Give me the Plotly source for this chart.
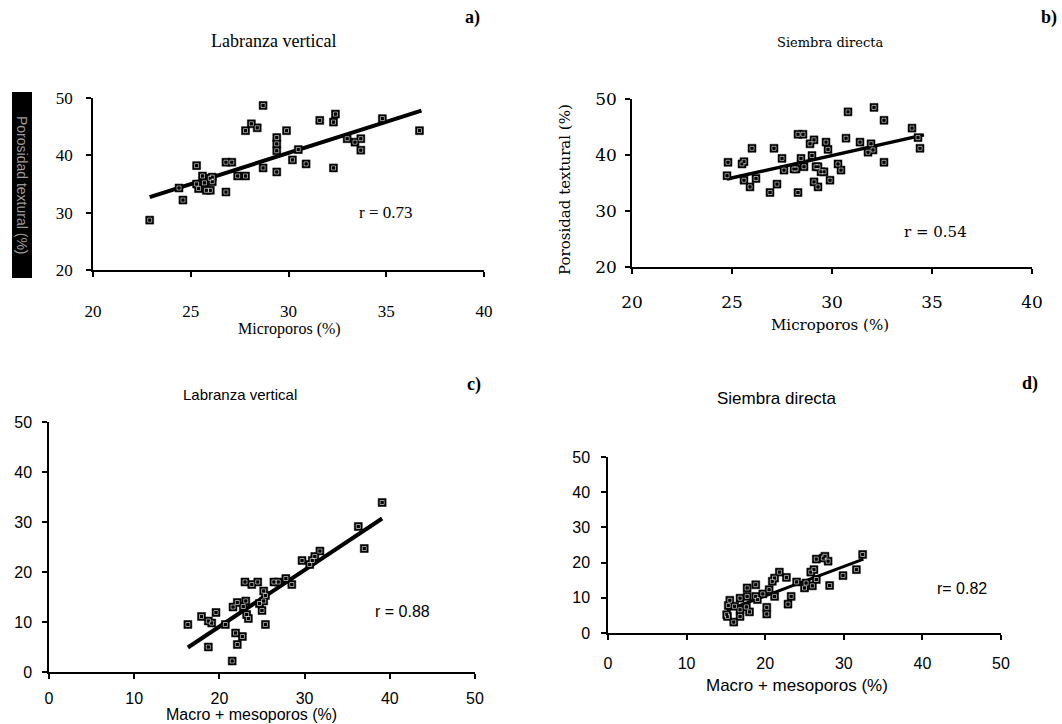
import plotly.graph_objects as go

W, H = 1062, 724

# ---------------- data ----------------
# Panel a: Labranza vertical, Microporos vs Porosidad textural
a_x = [22.9, 24.4, 24.6, 25.3, 25.3, 25.4, 25.6, 25.7, 25.8, 26.0, 26.0, 26.1, 26.1, 26.8, 26.8,
       27.1, 27.4, 27.8, 27.8, 28.1, 28.4, 28.7, 28.7, 29.4, 29.4, 29.4, 29.4, 29.9, 30.2, 30.5,
       30.9, 31.6, 32.3, 32.4, 32.3, 33.0, 33.4, 33.7, 33.7, 34.8, 36.7]
a_y = [28.7, 34.3, 32.2, 38.2, 35.0, 34.2, 36.4, 35.2, 33.9, 36.0, 33.9, 35.4, 36.2, 33.6, 38.8,
       38.8, 36.4, 36.4, 44.3, 45.5, 44.8, 48.7, 37.8, 37.1, 43.1, 42.0, 40.8, 44.3, 39.2, 41.0,
       38.5, 46.1, 45.8, 47.2, 37.8, 42.9, 42.3, 42.9, 40.9, 46.4, 44.3]
a_fit_x = [22.9, 36.8]
a_fit_y = [32.7, 47.8]

# Panel b: Siembra directa, Microporos vs Porosidad textural
b_x = [24.75, 24.8, 25.5, 25.6, 25.6, 25.9, 26.0, 26.2, 26.9, 27.1, 27.25, 27.5, 27.6, 28.1, 28.2,
       28.3, 28.3, 28.55, 28.45, 28.6, 28.9, 29.1, 29.0, 29.1, 29.2, 29.3, 29.3, 29.45, 29.6, 29.7,
       29.8, 29.9, 30.3, 30.45, 30.7, 30.8, 31.4, 31.8, 31.95, 32.05, 32.1, 32.6, 32.6, 34.0, 34.3, 34.4]
b_y = [36.3, 38.7, 38.4, 38.8, 35.5, 34.3, 41.2, 35.8, 33.3, 41.2, 34.8, 39.4, 37.3, 37.5, 37.5,
       33.3, 43.7, 43.7, 39.4, 37.9, 42.0, 42.7, 39.9, 35.2, 37.9, 34.3, 37.9, 37.0, 37.0, 42.3,
       41.0, 35.5, 38.4, 37.3, 43.0, 47.7, 42.3, 40.5, 42.0, 40.9, 48.5, 46.2, 38.7, 44.8, 43.1, 41.2]
b_fit_x = [24.75, 34.6]
b_fit_y = [35.7, 43.6]

# Panel c: Labranza vertical, Macro + mesoporos
c_x = [16.3, 17.9, 18.7, 18.7, 19.1, 19.6, 20.7, 21.5, 21.6, 21.9, 22.1, 22.1, 22.7, 22.8, 23.0,
       23.1, 23.2, 23.4, 23.8, 24.5, 24.7, 25.0, 25.2, 25.2, 25.4, 25.4, 26.4, 26.9, 27.8, 28.5,
       29.7, 30.6, 30.9, 31.2, 31.8, 36.3, 37.0, 39.1]
c_y = [9.5, 11.1, 10.2, 5.0, 9.8, 11.9, 9.5, 2.2, 13.0, 7.8, 13.9, 5.5, 7.1, 13.1, 18.0,
       14.2, 11.5, 10.7, 17.5, 18.0, 13.7, 12.3, 16.2, 14.2, 15.3, 9.5, 18.0, 18.0, 18.7, 17.5,
       22.3, 21.5, 22.3, 23.1, 24.2, 29.1, 24.7, 33.9]
c_fit_x = [16.3, 39.1]
c_fit_y = [4.9, 30.7]

# Panel d: Siembra directa, Macro + mesoporos
d_x = [15.1, 15.2, 15.3, 15.5, 16.0, 16.1, 16.8, 16.8, 16.8, 17.6, 17.7, 17.7, 18.0, 18.8, 18.8,
       19.0, 19.7, 20.2, 20.2, 20.5, 20.9, 21.2, 21.2, 21.8, 22.7, 22.9, 23.3, 24.0, 25.0, 25.2,
       25.8, 26.0, 26.2, 26.5, 26.5, 27.4, 27.6, 28.0, 28.2, 29.9, 31.6, 32.4]
d_y = [5.2, 4.7, 7.8, 9.3, 3.1, 7.6, 4.7, 6.6, 9.9, 7.4, 12.8, 10.4, 6.0, 13.7, 10.4,
       9.5, 11.1, 5.4, 7.3, 12.3, 14.7, 15.6, 10.4, 17.3, 15.8, 8.2, 10.4, 14.5, 12.8, 14.2,
       17.3, 13.4, 18.0, 21.0, 15.2, 21.3, 21.8, 20.4, 13.5, 16.3, 18.0, 22.3]
d_fit_x = [15.1, 32.5]
d_fit_y = [6.4, 21.0]

micro_ticks = [20, 25, 30, 35, 40]
poro_ticks = [20, 30, 40, 50]
macro_ticks = [0, 10, 20, 30, 40, 50]

# ---------------- helpers ----------------
def fx(px):
    return px / W

def fy(py):
    return 1 - py / H

SERIF_A = "Liberation Serif"
SERIF_B = "DejaVu Serif"
SANS = "Liberation Sans"

fig = go.Figure()

panels = [
    # axis suffix, xs, ys, fitx, fity, box(px: x0,x1,ytop,ybot), xrange, yrange, xticks, yticks,
    # font, tick size, line width, (x standoff, y standoff)
    ("", a_x, a_y, a_fit_x, a_fit_y, (93, 484, 98, 270), [20, 40], [20, 50], micro_ticks, poro_ticks, SERIF_A, 17, 4, (20, 10)),
    ("2", b_x, b_y, b_fit_x, b_fit_y, (632, 1032, 99, 267), [20, 40], [20, 50], micro_ticks, poro_ticks, SERIF_B, 17, 3.5, (14, 5)),
    ("3", c_x, c_y, c_fit_x, c_fit_y, (49, 475, 422, 672), [0, 50], [0, 50], macro_ticks, macro_ticks, SANS, 16, 4, (6, 7)),
    ("4", d_x, d_y, d_fit_x, d_fit_y, (608, 1001, 457, 633), [0, 50], [0, 50], macro_ticks, macro_ticks, SANS, 16, 3, (10, 8)),
]

layout_axes = {}
for name, xs, ys, fxs, fys, box, xr, yr, xt, yt, font, fsize, lw, so in panels:
    xa = "x" + name
    ya = "y" + name
    fig.add_trace(go.Scatter(x=fxs, y=fys, mode="lines", xaxis=xa, yaxis=ya,
                             line=dict(color="black", width=lw), showlegend=False, hoverinfo="skip"))
    fig.add_trace(go.Scatter(x=xs, y=ys, mode="markers", xaxis=xa, yaxis=ya,
                             marker=dict(symbol="square", size=8, color="black",
                                         line=dict(color="black", width=0.5)),
                             showlegend=False))
    fig.add_trace(go.Scatter(x=xs, y=ys, mode="markers", xaxis=xa, yaxis=ya,
                             marker=dict(symbol="square-open", size=4, color="white",
                                         line=dict(color="white", width=0.6)),
                             showlegend=False, hoverinfo="skip"))
    fig.add_trace(go.Scatter(x=xs, y=ys, mode="markers", xaxis=xa, yaxis=ya,
                             marker=dict(symbol="square", size=2.5, color="black",
                                         line=dict(width=0)),
                             showlegend=False, hoverinfo="skip"))
    x0, x1, yt_px, yb_px = box
    common = dict(showline=True, linecolor="black", linewidth=1.5, ticks="outside",
                  ticklen=5, tickwidth=1.5, tickcolor="black", showgrid=False, zeroline=False,
                  automargin=False,
                  tickfont=dict(family=font, size=fsize, color="black"), fixedrange=True)
    layout_axes["xaxis" + name] = dict(common, domain=[fx(x0), fx(x1)], range=xr,
                                       tickmode="array", tickvals=xt, anchor=ya,
                                       ticklabelstandoff=so[0])
    layout_axes["yaxis" + name] = dict(common, domain=[fy(yb_px), fy(yt_px)], range=yr,
                                       tickmode="array", tickvals=yt, anchor=xa,
                                       ticklabelstandoff=so[1])

fig.update_layout(**layout_axes)

def ann(text, px, py, family, size, bold=False, angle=0, color="black", xanchor="center"):
    if bold:
        text = "<b>" + text + "</b>"
    fig.add_annotation(text=text, x=fx(px), y=fy(py), xref="paper", yref="paper",
                       showarrow=False, xanchor=xanchor, yanchor="middle", textangle=angle,
                       font=dict(family=family, size=size, color=color))

# Panel a texts
ann("Labranza vertical", 273, 41, SERIF_A, 18)
ann("a)", 472, 18, SERIF_A, 18, bold=True)
ann("Microporos (%)", 289, 329, SERIF_A, 16)
ann("r = 0.73", 386, 212, SERIF_A, 17)

# Panel b texts
ann("Siembra directa", 830, 43, SERIF_B, 13)
ann("b)", 1049, 18, SERIF_A, 18, bold=True)
ann("Microporos (%)", 830, 325, SERIF_B, 15)
ann("r = 0.54", 935, 232, SERIF_B, 15)
ann("Porosidad textural (%)", 565, 190, SERIF_B, 15, angle=-90)

# Panel c texts
ann("Labranza vertical", 240, 394, SANS, 15)
ann("c)", 474, 384, SERIF_A, 18, bold=True)
ann("Macro + mesoporos (%)", 251, 714, SANS, 16)
ann("r = 0.88", 402, 611, SANS, 16)

# Panel d texts
ann("Siembra directa", 777, 398, SANS, 17)
ann("d)", 1030, 383, SERIF_A, 18, bold=True)
ann("Macro + mesoporos (%)", 797, 685, SANS, 17)
ann("r= 0.82", 962, 588, SANS, 16)

# Black box with garbled rotated label at left of panel a
fig.add_shape(type="rect", xref="paper", yref="paper",
              x0=fx(12), x1=fx(32), y0=fy(278), y1=fy(92),
              fillcolor="black", line=dict(width=0), layer="below")
ann("Porosidad textural (%)", 22, 185, SANS, 14, angle=90, color="#9a9a9a")

fig.update_layout(width=W, height=H, margin=dict(l=0, r=0, t=0, b=0, pad=0, autoexpand=False),
                  paper_bgcolor="white", plot_bgcolor="white", showlegend=False)

fig.write_html("out.html", config={"displayModeBar": False},
               post_script="document.body.style.margin='0px';document.body.style.padding='0px';")
